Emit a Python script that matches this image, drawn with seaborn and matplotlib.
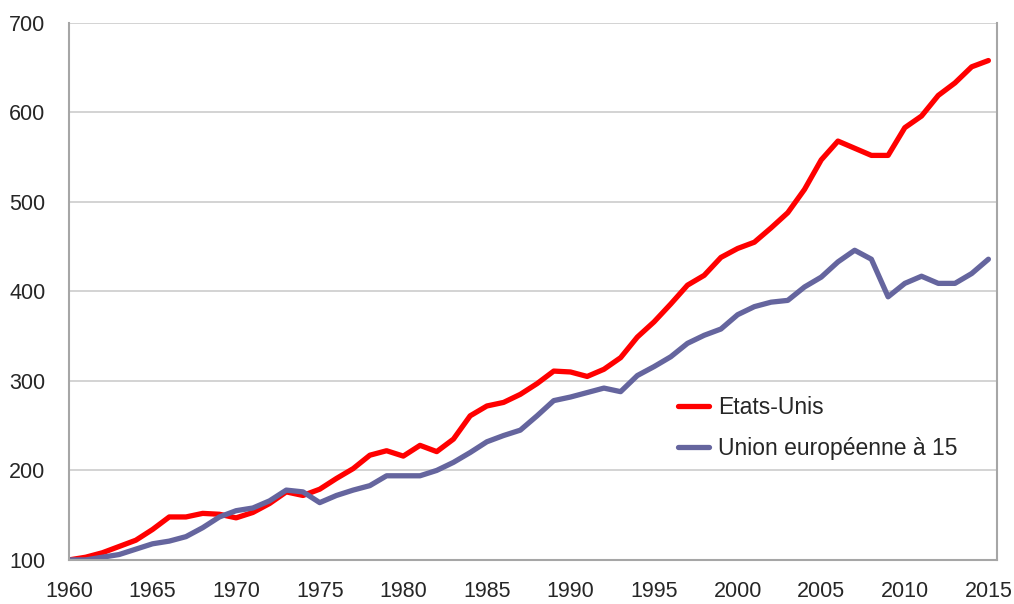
import numpy as np
import pandas as pd
import matplotlib
matplotlib.use('Agg')
import matplotlib.pyplot as plt
import seaborn as sns

years = list(range(1960, 2016))

etats_unis = [100, 103, 108, 115, 122, 134, 148, 148, 152, 151,
              147, 153, 163, 176, 172, 179, 191, 202, 217, 222,
              216, 228, 221, 235, 261, 272, 276, 285, 297, 311,
              310, 305, 313, 326, 349, 366, 386, 407, 418, 438,
              448, 455, 471, 488, 514, 547, 568, 560, 552, 552,
              583, 596, 619, 633, 651, 658]

ue15 = [100, 100, 103, 106, 112, 118, 121, 126, 136, 148,
        155, 158, 166, 178, 176, 164, 172, 178, 183, 194,
        194, 194, 200, 209, 220, 232, 239, 245, 261, 278,
        282, 287, 292, 288, 306, 316, 327, 342, 351, 358,
        374, 383, 388, 390, 405, 416, 433, 446, 436, 394,
        409, 417, 409, 409, 420, 436]

series_names = ["Etats-Unis", "Union européenne à 15"]
colors = ["#FF0000", "#65659E"]

df = pd.DataFrame({"annee": years, series_names[0]: etats_unis, series_names[1]: ue15})
long = df.melt(id_vars="annee", var_name="serie", value_name="valeur")

sns.set_style("white")
plt.rcParams['font.family'] = ['Liberation Sans', 'DejaVu Sans']

fig = plt.figure(figsize=(10.14, 6.04), dpi=100)
ax = fig.add_axes([0.068, 0.073, 0.915, 0.889])

sns.lineplot(data=long, x="annee", y="valeur", hue="serie",
             palette=dict(zip(series_names, colors)), linewidth=3.8, ax=ax)

ax.set_xlim(1960, 2015.5)
ax.set_ylim(100, 700)
ax.set_xticks(range(1960, 2016, 5))
ax.set_xticks(years, minor=True)
ax.set_yticks(range(100, 701, 100))
ax.yaxis.grid(True, color="#d0d0d0", linewidth=1.3)
ax.set_axisbelow(True)

for side in ["left", "bottom", "right"]:
    ax.spines[side].set_color("#a6a6a6")
    ax.spines[side].set_linewidth(1.5)
ax.spines["top"].set_visible(False)

ax.tick_params(axis="both", which="both", direction="out", color="#8c8c8c",
               labelsize=15.5, labelcolor="#262626")
ax.tick_params(axis="x", which="both", length=6, width=1.2, pad=9)
ax.tick_params(axis="y", length=5, width=1.2, pad=12)
ax.tick_params(axis="x", which="minor", length=6)
ax.set_xlabel("")
ax.set_ylabel("")

leg = ax.legend(loc="upper left", bbox_to_anchor=(0.648, 0.378), bbox_transform=fig.transFigure,
                frameon=False, fontsize=16.5, handlelength=1.35, handletextpad=0.4, labelspacing=0.76)
for line in leg.get_lines():
    line.set_linewidth(3.8)

fig.savefig("out.png", dpi=100)
